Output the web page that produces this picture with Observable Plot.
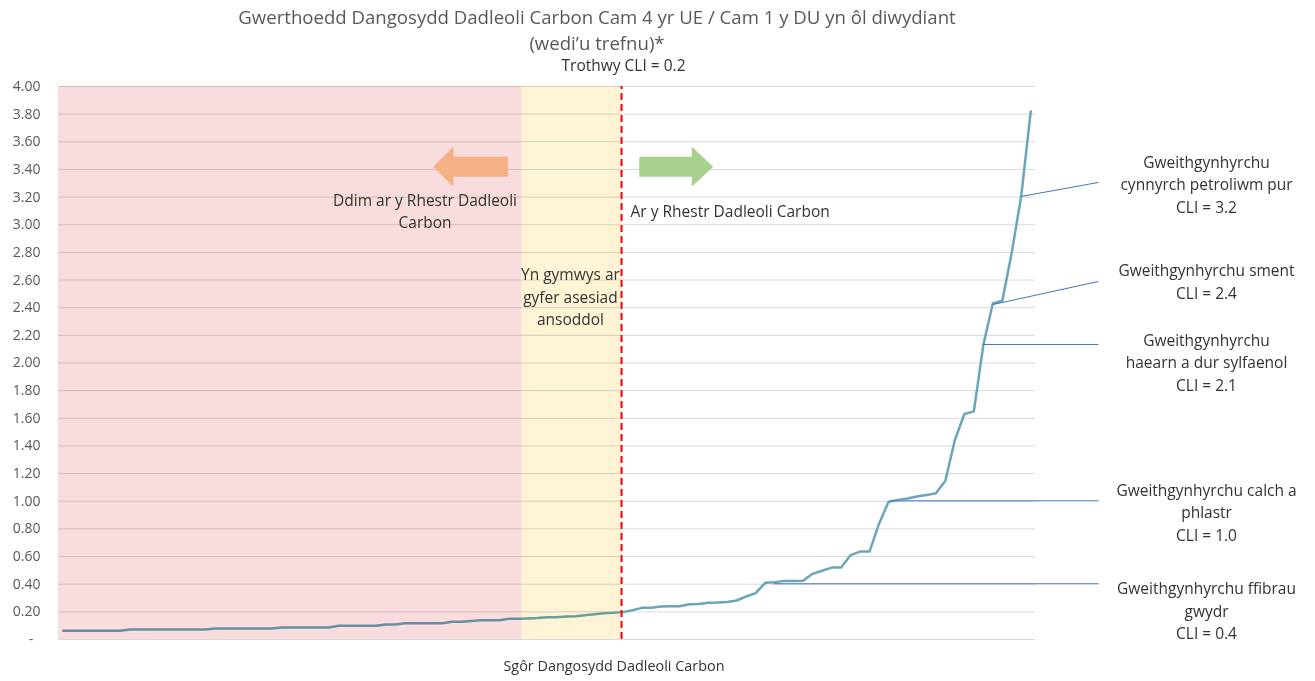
<!DOCTYPE html>
<html>
<head>
<meta charset="utf-8">
<script src="https://cdn.jsdelivr.net/npm/d3@7"></script>
<script src="https://cdn.jsdelivr.net/npm/@observablehq/plot@0.6"></script>
<style>
  body { margin: 0; background: #fff; font-family: "Open Sans", sans-serif; }
  #wrap { position: relative; width: 1315px; height: 681px; }
  #title { width: 1194px; text-align: center; color: #595959; font-size: 18.6px; line-height: 26px; padding-top: 4px; height: 52px; }
</style>
</head>
<body>
<div id="wrap">
  <div id="title">Gwerthoedd Dangosydd Dadleoli Carbon Cam 4 yr UE / Cam 1 y DU yn ôl diwydiant<br>(wedi’u trefnu)*</div>
  <div id="chart"></div>
</div>
<script>
// ---- Data (sorted sectors) ----
const cliValues = [
  0.063, 0.063, 0.063, 0.063, 0.063, 0.063, 0.063,
  0.072, 0.072, 0.072, 0.072, 0.072, 0.072, 0.072, 0.072, 0.072,
  0.079, 0.079, 0.079, 0.079, 0.079, 0.079, 0.079,
  0.087, 0.087, 0.087, 0.087, 0.087, 0.087,
  0.099, 0.099, 0.099, 0.099, 0.099,
  0.108, 0.108,
  0.118, 0.118, 0.118, 0.118, 0.118,
  0.128, 0.128, 0.134, 0.140, 0.140, 0.140,
  0.150, 0.150, 0.152, 0.155, 0.161, 0.161, 0.166, 0.168, 0.175, 0.183, 0.190, 0.193, 0.198,
  0.212, 0.229, 0.229, 0.238, 0.240, 0.240, 0.255, 0.257, 0.265, 0.267, 0.272, 0.282,
  0.311, 0.335, 0.410, 0.414, 0.424, 0.424, 0.425, 0.475, 0.497, 0.520, 0.520,
  0.610, 0.636, 0.636, 0.836, 0.995, 1.010, 1.020, 1.035, 1.045, 1.057, 1.149,
  1.443, 1.631, 1.650, 2.130, 2.430, 2.450, 2.800, 3.210, 3.820
];
const sectorRank = cliValues.map((v, i) => i);
const yTicks = [0, 0.2, 0.4, 0.6, 0.8, 1.0, 1.2, 1.4, 1.6, 1.8, 2.0, 2.2, 2.4, 2.6, 2.8, 3.0, 3.2, 3.4, 3.6, 3.8, 4.0];
const threshold = 58.86;          // rank where CLI = 0.2
const qualitativeStart = 48.31;   // rank where the qualitative band starts
const xAxisLabel = "Sgôr Dangosydd Dadleoli Carbon";

const centeredZoneLabels = [
  {x: 59.07, y: 4.166, text: "Trothwy CLI = 0.2"},
  {x: 38.14, y: 3.110, text: "Ddim ar y Rhestr Dadleoli\nCarbon"},
  {x: 53.47, y: 2.488, text: "Yn gymwys ar\ngyfer asesiad\nansoddol"}
];
const leftZoneLabels = [
  {x: 59.81, y: 3.110, text: "Ar y Rhestr Dadleoli Carbon"}
];
const sectorLabels = [
  {x: 120.53, y: 3.302, text: "Gweithgynhyrchu\ncynnyrch petroliwm pur\nCLI = 3.2"},
  {x: 120.53, y: 2.597, text: "Gweithgynhyrchu sment\nCLI = 2.4"},
  {x: 120.53, y: 2.014, text: "Gweithgynhyrchu\nhaearn a dur sylfaenol\nCLI = 2.1"},
  {x: 120.53, y: 0.929, text: "Gweithgynhyrchu calch a\nphlastr\nCLI = 1.0"},
  {x: 120.53, y: 0.217, text: "Gweithgynhyrchu ffibrau\ngwydr\nCLI = 0.4"}
];
const callouts = [
  {x1: 100.92, y1: 3.204, x2: 109.14, y2: 3.306},
  {x1: 98.02, y1: 2.423, x2: 109.14, y2: 2.590},
  {x1: 96.99, y1: 2.134, x2: 109.14, y2: 2.134},
  {x1: 87.11, y1: 1.003, x2: 109.14, y2: 1.003},
  {x1: 74.88, y1: 0.403, x2: 109.14, y2: 0.403}
];
const zones = [
  {x1: -0.5, x2: qualitativeStart, fill: "#F9DCDD"},
  {x1: qualitativeStart, x2: threshold, fill: "#FFF4D6"}
];
const leftArrow = [
  {x: 39.07, y1: 3.416, y2: 3.416},
  {x: 41.18, y1: 3.271, y2: 3.561},
  {x: 41.18, y1: 3.344, y2: 3.488},
  {x: 46.94, y1: 3.344, y2: 3.488}
];
const rightArrow = [
  {x: 60.78, y1: 3.344, y2: 3.488},
  {x: 66.31, y1: 3.344, y2: 3.488},
  {x: 66.31, y1: 3.271, y2: 3.561},
  {x: 68.58, y1: 3.416, y2: 3.416}
];

const series = sectorRank.map((r, i) => ({rank: r, cli: cliValues[i]}));
const textColor = "#333333";

const chart = Plot.plot({
  width: 1315,
  height: 625,
  marginTop: 30,
  marginBottom: 42,
  marginLeft: 58,
  marginRight: 280,
  style: {fontFamily: "Open Sans, sans-serif", background: "white", overflow: "visible"},
  x: {type: "linear", domain: [-0.5, cliValues.length - 0.5], axis: null},
  y: {domain: [0, 4], axis: null},
  marks: [
    Plot.ruleY(yTicks, {stroke: "#D9D9D9", strokeWidth: 1}),
    Plot.line(series, {x: "rank", y: "cli", stroke: "#6AA6BA", strokeWidth: 2.5, curve: "linear"}),
    Plot.rect(zones, {x1: "x1", x2: "x2", y1: () => 0, y2: () => 4, fill: "fill", mixBlendMode: "multiply"}),
    Plot.ruleX([threshold], {y1: 0, y2: 4, stroke: "#FF0000", strokeWidth: 2, strokeDasharray: "7,4"}),
    Plot.area(leftArrow, {x1: "x", y1: "y1", y2: "y2", fill: "#F4B183", curve: "linear"}),
    Plot.area(rightArrow, {x1: "x", y1: "y1", y2: "y2", fill: "#A9D18E", curve: "linear"}),
    Plot.link(callouts, {x1: "x1", y1: "y1", x2: "x2", y2: "y2", stroke: "#4472C4", strokeWidth: 1}),
    Plot.text(centeredZoneLabels, {x: "x", y: "y", text: "text", textAnchor: "middle", fontSize: 15.5, lineHeight: 1.45, fill: textColor}),
    Plot.text(leftZoneLabels, {x: "x", y: "y", text: "text", textAnchor: "start", fontSize: 15.5, lineHeight: 1.45, fill: textColor}),
    Plot.text(sectorLabels, {x: "x", y: "y", text: "text", fontSize: 15.5, lineHeight: 1.45, fill: textColor}),
    Plot.axisY(yTicks, {
      tickSize: 0, tickPadding: 18, fontSize: 14, fill: "#595959", label: null,
      tickFormat: d => d === 0 ? "-\u00A0\u00A0" : d.toFixed(2)
    }),
    Plot.text([xAxisLabel], {x: () => 58.06, frameAnchor: "bottom", dy: 31, fontSize: 14.4, fill: textColor})
  ]
});
document.getElementById("chart").appendChild(chart);
</script>
</body>
</html>
